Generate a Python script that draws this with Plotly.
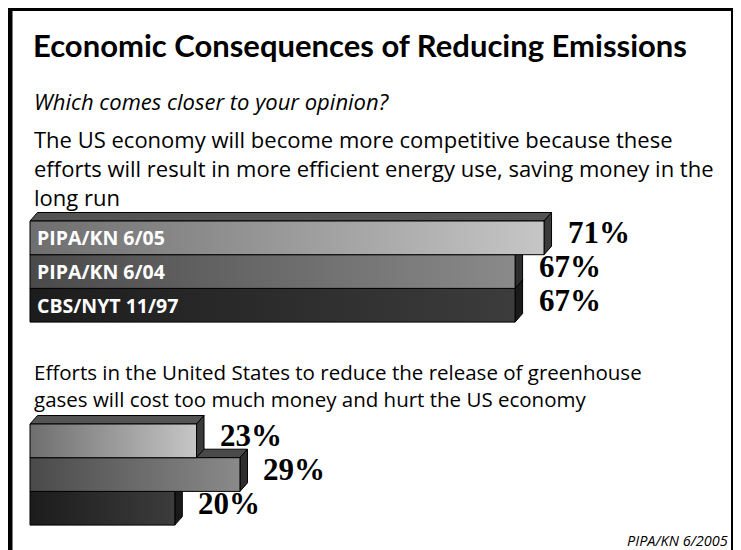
import plotly.graph_objects as go

# ---------------- data ----------------
title = "Economic Consequences of Reducing Emissions"
subtitle = "Which comes closer to your opinion?"
q1_lines = ["The US economy will become more competitive because these",
            "efforts will result in more efficient energy use, saving money in the",
            "long run"]
q2_lines = ["Efforts in the United States to reduce the release of greenhouse",
            "gases will cost too much money and hurt the US economy"]
surveys = ["PIPA/KN 6/05", "PIPA/KN 6/04", "CBS/NYT 11/97"]
q1_values = [71, 67, 67]
q2_values = [23, 29, 20]
source = "PIPA/KN 6/2005"

# ---------------- layout constants (pixels of the 741x550 window) ----------------
WIN_W, WIN_H = 741, 550
OFF = 8                      # default page body margin
W, H = WIN_W - OFF, WIN_H - OFF
X0 = 30.0                    # window pixel of 0%
S = 7.24                     # pixels per percent
DX, DY = 7.5, 8.5            # 3D depth in pixels
BAR_H = 33.7
q1_top = 221.0
q2_top = 424.0
FONT = "Open Sans"

front_scales = [
    [[0, "#6e6e6e"], [1, "#c6c6c6"]],
    [[0, "#4a4a4a"], [1, "#8a8a8a"]],
    [[0, "#1c1c1c"], [1, "#3c3c3c"]],
]
side_colors = ["#3a3a3a", "#2e2e2e", "#1a1a1a"]
top_colors = ["#545454", "#4a4a4a", "#3a3a3a"]

fig = go.Figure()
dxu = DX / S


def add_poly(xs, ys, fill=None, grad=None):
    kw = dict(x=xs + [xs[0]], y=ys + [ys[0]], mode="lines", fill="toself",
              line=dict(color="#000000", width=1), hoverinfo="skip", showlegend=False)
    if grad is not None:
        kw["fillgradient"] = dict(type="horizontal", colorscale=grad)
    else:
        kw["fillcolor"] = fill
    fig.add_trace(go.Scatter(**kw))


def add_group(values, top):
    n = len(values)
    # draw bottom bar first so upper bars cover lower bars' top faces
    for i in reversed(range(n)):
        v = values[i]
        yt = top + i * BAR_H
        yb = yt + BAR_H
        add_poly([0, dxu, v + dxu, v], [yt, yt - DY, yt - DY, yt], fill=top_colors[i])
        add_poly([v, v + dxu, v + dxu, v], [yt, yt - DY, yb - DY, yb], fill=side_colors[i])
        add_poly([0, v, v, 0], [yt, yt, yb, yb], grad=front_scales[i])


add_group(q1_values, q1_top)
add_group(q2_values, q2_top)

ann = []


def px(p):
    return (p - OFF) / W


def py(p):
    return 1 - (p - OFF) / H


def txt(x, y, s, size, family=FONT, color="#000000", bold=False, italic=False,
        xanchor="left", xref="paper"):
    if bold:
        s = "<b>" + s + "</b>"
    if italic:
        s = "<i>" + s + "</i>"
    ann.append(dict(x=x, y=y, xref=xref, yref="y", text=s, showarrow=False,
                    xanchor=xanchor, yanchor="middle",
                    font=dict(size=size, family=family, color=color)))


txt(px(31), 45, title, 31, family="Lato", bold=True)
txt(px(32), 101, subtitle, 22, italic=True)
for k, line in enumerate(q1_lines):
    txt(px(32), 139 + k * 29, line, 22)
for k, line in enumerate(q2_lines):
    txt(px(32), 372 + k * 27, line, 20.5)
txt(px(730), 540, source, 14.5, italic=True, xanchor="right")

for i, lab in enumerate(surveys):
    yc = q1_top + i * BAR_H + BAR_H / 2
    txt(5 / S, yc, lab, 19.5, color="#ffffff", bold=True, xref="x")

for values, top in ((q1_values, q1_top), (q2_values, q2_top)):
    for i, v in enumerate(values):
        yc = top + i * BAR_H + BAR_H / 2 - 5
        txt(v + (DX + 14) / S, yc, f"{v}%", 31, family="Liberation Serif",
            bold=True, xref="x")


def rect(x0, x1, y0, y1, color):
    return dict(type="rect", xref="paper", yref="paper", x0=px(x0), x1=px(x1),
                y0=py(y1), y1=py(y0), fillcolor=color, line=dict(width=0), layer="below")


shapes = [
    rect(736, 742, 13, 560, "#8c8c8c"),   # shadow
    rect(8, 12.5, 6, 560, "#000000"),     # left border
    rect(8, 736, 6, 11, "#000000"),       # top border
    rect(731, 736, 6, 560, "#000000"),    # right border
]

fig.update_layout(
    width=W, height=H, margin=dict(l=0, r=0, t=0, b=0),
    paper_bgcolor="#ffffff", plot_bgcolor="rgba(0,0,0,0)",
    xaxis=dict(range=[(OFF - X0) / S, (WIN_W - X0) / S], visible=False, fixedrange=True),
    yaxis=dict(range=[WIN_H, OFF], visible=False, fixedrange=True),
    annotations=ann, shapes=shapes, showlegend=False,
)

fig.write_html("out.html")
